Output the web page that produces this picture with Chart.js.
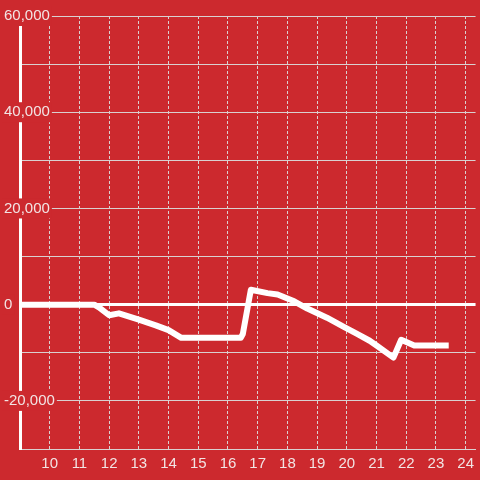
<!DOCTYPE html>
<html>
<head>
<meta charset="utf-8">
<script src="https://cdn.jsdelivr.net/npm/chart.js@4/dist/chart.umd.min.js"></script>
<style>
  html, body { margin: 0; padding: 0; background: #cc292e; }
  #wrap { width: 480px; height: 480px; }
</style>
</head>
<body>
<div id="wrap"><canvas id="chart"></canvas></div>
<script>
// hour of day vs. running total
const hours = [9, 11.5, 11.67, 12, 12.33, 13, 13.57, 14, 14.43, 16.43, 16.5, 16.77, 17.33, 17.67, 18.23, 18.67, 19.33, 19.9, 20.33, 20.77, 21, 21.57, 21.83, 22.27, 23.43];
const values = [0, 0, -600, -2200, -1800, -3100, -4300, -5300, -6900, -6900, -6100, 3100, 2400, 2100, 700, -800, -2700, -4600, -6000, -7500, -8500, -11000, -7300, -8500, -8500];
const yTickLabels = [60000, 40000, 20000, 0, -20000];

const bg = "#cc292e";
const labelColor = "#f2e4e4";
const gridColor = "#d9d0d0";
const font = { family: "Liberation Sans, Arial, sans-serif", size: 15 };

const points = hours.map((h, i) => ({ x: h, y: values[i] }));

new Chart(document.getElementById("chart"), {
  type: "line",
  data: {
    datasets: [
      {
        data: points,
        borderColor: "#ffffff",
        borderWidth: 6,
        pointRadius: 0,
        tension: 0,
        fill: false,
        borderJoinStyle: "round",
      },
    ],
  },
  options: {
    responsive: true,
    maintainAspectRatio: false,
    animation: false,
    layout: { padding: { left: 4, top: 16, right: 0, bottom: 1 } },
    plugins: { legend: { display: false }, tooltip: { enabled: false } },
    scales: {
      x: {
        type: "linear",
        min: 9,
        max: 24.333,
        grid: {
          color: gridColor,
          lineWidth: 1,
          drawTicks: false,
        },
        border: { display: true, color: gridColor, width: 1, dash: [3, 2] },
        ticks: {
          stepSize: 1,
          includeBounds: false,
          padding: 6,
          color: labelColor,
          font: font,
          maxRotation: 0,
          callback: (v) => (v === 9 ? "" : String(v)),
        },
      },
      y: {
        min: -30000,
        max: 60000,
        afterFit: (scale) => {
          // narrow axis box, labels run over into the plot
          scale.width = 16;
          scale._computeLabelArea = () => undefined;
        },
        grid: {
          drawTicks: false,
          color: (ctx) => (ctx.tick && ctx.tick.value === 0 ? "#ffffff" : gridColor),
          lineWidth: (ctx) => (ctx.tick && ctx.tick.value === 0 ? 3 : 1),
        },
        border: { display: true, color: "#ffffff", width: 3 },
        ticks: {
          stepSize: 10000,
          crossAlign: "far",
          padding: 0,
          color: labelColor,
          font: font,
          showLabelBackdrop: (ctx) => yTickLabels.includes(ctx.tick.value),
          backdropColor: bg,
          backdropPadding: { left: 2, right: 2, top: 1, bottom: 1 },
          callback: (v) => (yTickLabels.includes(v) ? v.toLocaleString("en-US") : ""),
        },
      },
    },
  },
});
</script>
</body>
</html>
